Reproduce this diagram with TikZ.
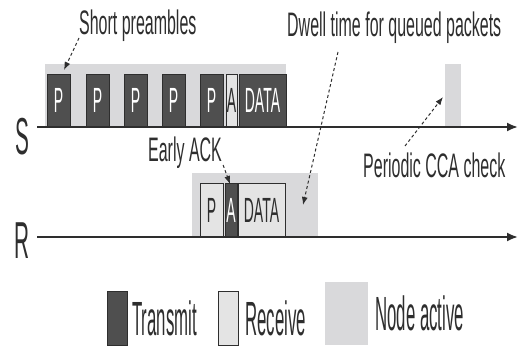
\documentclass[tikz,border=0pt]{standalone}
\usepackage{fontspec}
\setmainfont{Liberation Sans}
\newfontfamily\annofont{Liberation Sans}[FakeStretch=0.47]
\newfontfamily\boxfont{Liberation Sans}[FakeStretch=0.4]
\newfontfamily\legfont{Liberation Sans}[FakeStretch=0.35]
\usetikzlibrary{arrows.meta, positioning}
\definecolor{txgray}{HTML}{4F4F4F}
\definecolor{rxgray}{HTML}{E4E4E4}
\definecolor{activegray}{HTML}{D9D9DB}
\definecolor{inkgray}{HTML}{2E2E2E}

\begin{document}
\begin{tikzpicture}[x=1pt, y=-1pt]
\tikzstyle{tx} = [rectangle, draw=inkgray, fill=txgray, text=white, inner sep=0pt, outer sep=0pt, anchor=south west, minimum height=53pt, font=\boxfont\fontsize{35}{35}\selectfont]
\tikzstyle{rx} = [rectangle, draw=inkgray, fill=rxgray, text=inkgray, inner sep=0pt, outer sep=0pt, anchor=south west, minimum height=53pt, font=\boxfont\fontsize{35}{35}\selectfont]
\tikzstyle{active} = [rectangle, fill=activegray, inner sep=0pt, outer sep=0pt, anchor=south west]
\tikzstyle{note} = [inner sep=0pt, text=inkgray, font=\annofont\fontsize{34}{34}\selectfont]
\tikzstyle{axislabel} = [inner sep=0pt, text=inkgray, anchor=base, font=\boxfont\fontsize{52}{52}\selectfont]
\tikzstyle{legendtext} = [inner sep=0pt, text=inkgray, anchor=west, font=\legfont\fontsize{48}{48}\selectfont]
\tikzstyle{axis} = [draw=inkgray, line width=2pt, -{Latex[length=11pt,width=9pt]}]
\tikzstyle{pointer} = [draw=inkgray, line width=1pt, dash pattern=on 3pt off 2.5pt, -{Latex[length=8pt,width=6pt]}]

\useasboundingbox (0,0) rectangle (518,347);

% node active periods
\node (sbg) [active, minimum width=241pt, minimum height=63pt] at (45,127) {};
\node (scca) [active, minimum width=16pt, minimum height=63pt] at (445,127) {};
\node (rbg) [active, minimum width=126pt, minimum height=64pt] at (192,237) {};

% sender
\foreach \x [count=\i] in {47,86,124,162,200}
  \node (p\i) [tx, minimum width=23pt] at (\x,127) {P};
\node (sack) [rx, minimum width=11pt] at (226,127) {A};
\node (sdata) [tx, minimum width=47pt] at (239,127) {DATA};

% receiver
\node (rp) [rx, minimum width=23pt, minimum height=54pt] at (200,237) {P};
\node (rack) [tx, minimum width=12pt, minimum height=54pt] at (225,237) {A};
\node (rdata) [rx, minimum width=47pt, minimum height=54pt] at (238,237) {DATA};

% time axes
\node (slabel) [axislabel] at (22,155) {S};
\node (rlabel) [axislabel] at (22,258) {R};
\coordinate (sstart) at (37,127);
\coordinate (send) at (518,127);
\coordinate (rstart) at (37,237);
\coordinate (rend) at (518,237);
\draw [axis] (sstart) -- (send);
\draw [axis] (rstart) -- (rend);

% annotations
\node (short) [note, anchor=base west] at (79,35) {Short preambles};
\node (dwell) [note, anchor=base west] at (287,37) {Dwell time for queued packets};
\node (early) [note, anchor=base west] at (148,162) {Early ACK};
\node (cca) [note, anchor=base west] at (363,178) {Periodic CCA check};

\coordinate (shorttip) at (64,70);
\coordinate (dwellfrom) at (338,52);
\coordinate (dwelltip) at (303,205);
\coordinate (ccafrom) at (405,146);
\coordinate (ccatip) at (443,97);
\draw [pointer] ([yshift=-3pt]short.base west) -- (shorttip);
\draw [pointer] (dwellfrom) -- (dwelltip);
\draw [pointer] ([xshift=1pt,yshift=-3pt]early.base east) -- ([xshift=-1pt,yshift=-1pt]rack.north);
\draw [pointer] (ccafrom) -- (ccatip);

% legend
\node (legtx) [tx, minimum width=20pt, minimum height=54pt] at (107,345) {};
\node (legtxtext) [legendtext, right=5pt of legtx] {Transmit};
\node (legrx) [rx, minimum width=20pt, minimum height=54pt] at (218,345) {};
\node (legrxtext) [legendtext, right=7pt of legrx] {Receive};
\node (legact) [active, minimum width=43pt, minimum height=63pt] at (325,345) {};
\node (legacttext) [legendtext, right=7pt of legact] {Node active};

\end{tikzpicture}
\end{document}
